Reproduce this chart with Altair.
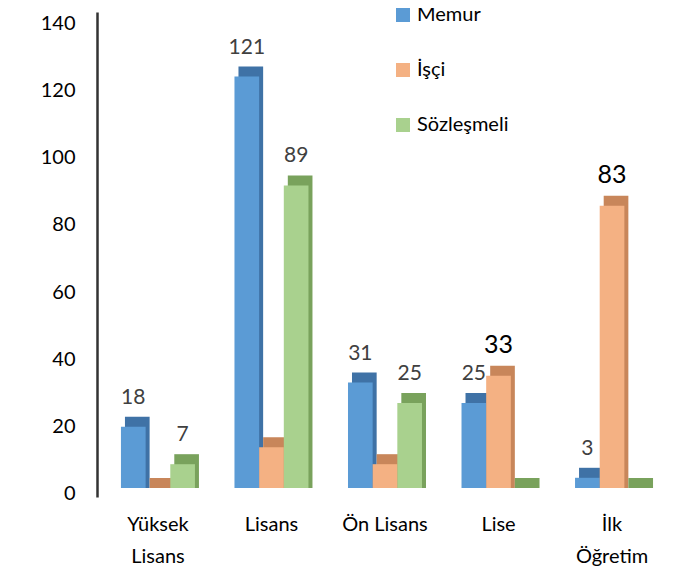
import altair as alt
import pandas as pd

categories = ["Yüksek Lisans", "Lisans", "Ön Lisans", "Lise", "İlk Öğretim"]
series = ["Memur", "İşçi", "Sözleşmeli"]
memur = [18, 121, 31, 25, 3]
isci = [0, 12, 7, 33, 83]
sozlesmeli = [7, 89, 25, 0, 0]
memur_labels = ["18", "121", "31", "25", "3"]
isci_labels = ["", "", "", "33", "83"]
sozlesmeli_labels = ["7", "89", "25", "", ""]
front_colors = ["#5B9BD5", "#F4B183", "#A9D18E"]
top_colors = ["#3F72A6", "#C8865A", "#79A25C"]
y_ticks = [0, 20, 40, 60, 80, 100, 120, 140]

rows = []
for s_i, (name, vals, labs) in enumerate(
    [("Memur", memur, memur_labels), ("İşçi", isci, isci_labels), ("Sözleşmeli", sozlesmeli, sozlesmeli_labels)]
):
    for c, v, l in zip(categories, vals, labs):
        big = name == "İşçi" and l != ""
        rows.append({
            "kategori": c,
            "seri": name,
            "deger": v,
            "etiket": l,
            "ust_renk": top_colors[s_i],
            "fs": 25 if big else 21,
            "tc": "#000000" if big else "#404040",
        })
df = pd.DataFrame(rows)

x_enc = alt.X("kategori:N", sort=categories, title=None,
              scale=alt.Scale(paddingInner=0.348, paddingOuter=0.211),
              axis=alt.Axis(domain=False, ticks=False, labelAngle=0, labelFontSize=20,
                            labelColor="#000000", labelPadding=17, labelLineHeight=32,
                            labelExpr="datum.label == 'Yüksek Lisans' ? ['Yüksek', 'Lisans'] : datum.label == 'İlk Öğretim' ? ['İlk', 'Öğretim'] : datum.label"))
xo_front = alt.XOffset("seri:N", sort=series,
                       scale=alt.Scale(type="band", range=[0, 74], paddingInner=0, paddingOuter=0))
xo_back = alt.XOffset("seri:N", sort=series,
                      scale=alt.Scale(type="band", range=[4, 78], paddingInner=0, paddingOuter=0))
y_scale = alt.Scale(domain=[-2.65, 140], nice=False, zero=False)
y_enc = alt.Y("deger:Q", scale=y_scale, title=None,
              axis=alt.Axis(values=y_ticks, ticks=False, grid=False, domainColor="#333333",
                            domainWidth=2.5, labelFontSize=20, labelColor="#000000",
                            labelPadding=22, labelOffset={"expr": "6 + datum.value * 0.036"}))

base = alt.Chart(df)

back = base.mark_bar(yOffset=-10).encode(
    x=x_enc, xOffset=xo_back, y=y_enc, y2=alt.datum(0),
    color=alt.Color("ust_renk:N", scale=None),
)

front = base.mark_bar().encode(
    x=x_enc, xOffset=xo_front, y=y_enc, y2=alt.datum(0),
    color=alt.Color("seri:N", sort=series,
                    scale=alt.Scale(domain=series, range=front_colors),
                    legend=alt.Legend(title=None, orient="none", legendX=296, legendY=-7,
                                      symbolType="square", symbolSize=196, symbolStrokeWidth=0,
                                      labelFontSize=20, labelColor="#000000", labelOffset=4,
                                      rowPadding=35, padding=0)),
)

labels = base.mark_text(baseline="alphabetic", dy=-23, dx=0).encode(
    x=x_enc, xOffset=xo_front, y=y_enc,
    text="etiket:N",
    size=alt.Size("fs:Q", scale=None),
    color=alt.Color("tc:N", scale=None),
)

chart = alt.layer(back, front, labels).resolve_scale(xOffset="independent").properties(
    width=576, height=485,
    autosize=alt.AutoSizeParams(type="none"),
    padding={"left": 89, "top": 4, "right": 18, "bottom": 70},
).configure(font="Lato").configure_view(stroke=None).configure_axis(
    labelFont="Lato"
).configure_legend(labelFont="Lato").configure_text(font="Lato")

chart.save("out.html", embed_options={"renderer": "svg", "actions": False})
